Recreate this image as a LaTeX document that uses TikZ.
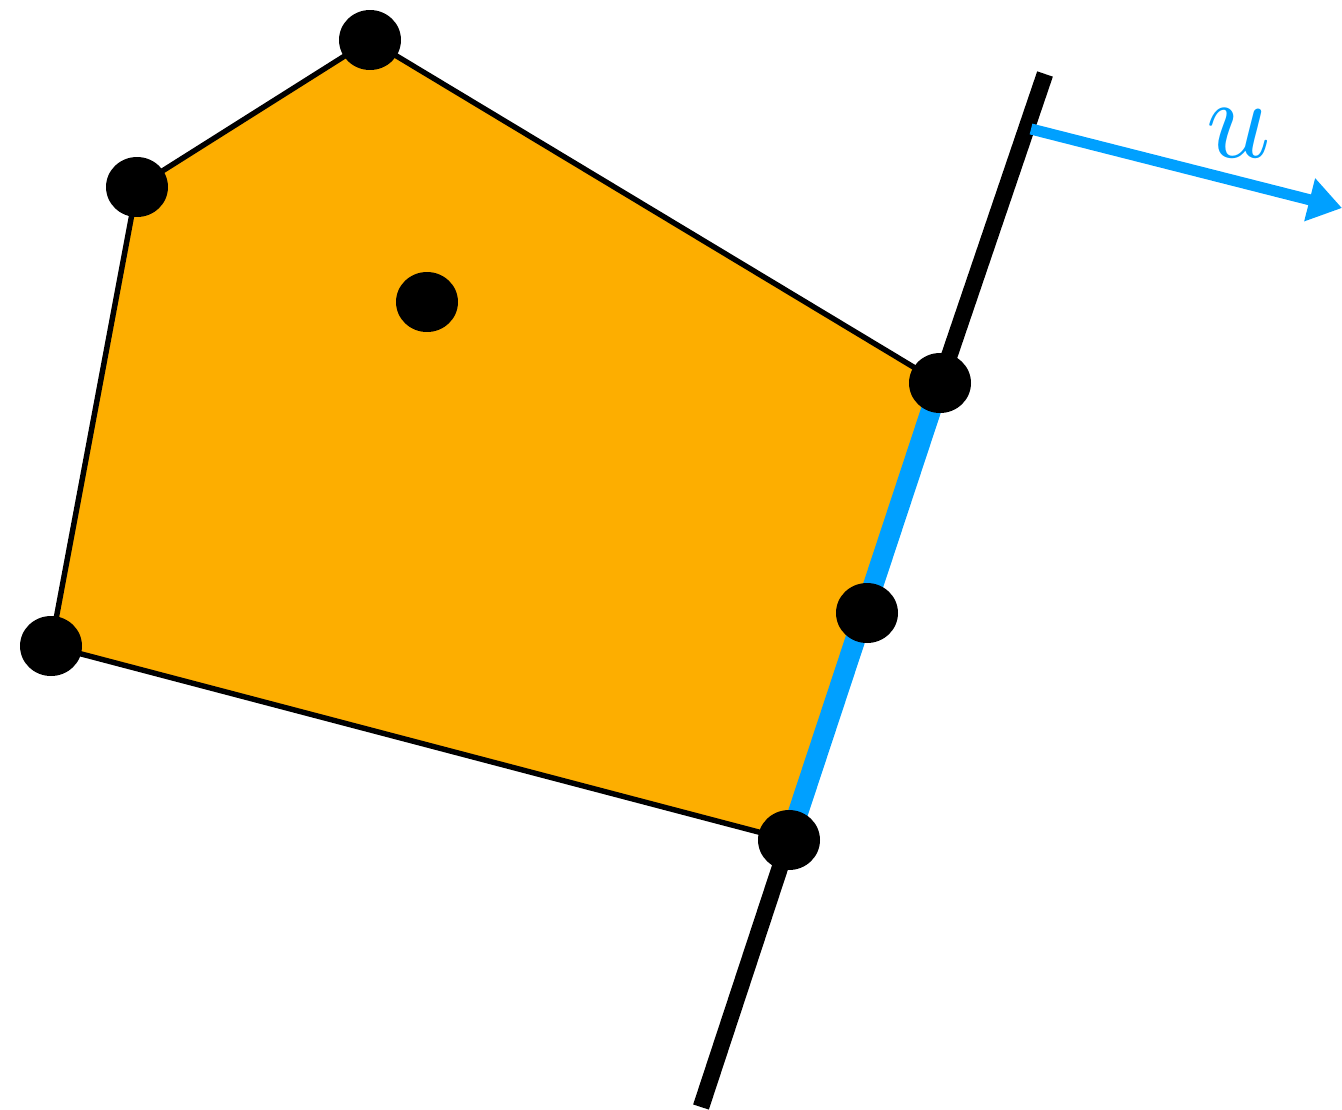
\documentclass[tikz,border=0pt]{standalone}
\usetikzlibrary{shapes.geometric,arrows.meta}
\definecolor{polyorange}{RGB}{253,174,0}
\definecolor{ublue}{RGB}{0,160,255}
\tikzset{
  dot/.style={ellipse,fill=black,inner sep=0pt,minimum width=1.24cm,minimum height=1.2cm},
  edge/.style={line width=3.1pt,black},
  support/.style={line width=9.4pt,black},
  faceedge/.style={line width=11.5pt,ublue},
  dirarrow/.style={line width=6.3pt,ublue,-{Triangle[length=19pt,width=24pt]}}
}
\begin{document}
\begin{tikzpicture}[x=0.02cm,y=-0.02cm]
\useasboundingbox (0,0) rectangle (1342,1109);
% vertex positions
\coordinate (vt) at (370,40);
\coordinate (vl) at (137,187);
\coordinate (vb) at (51,646);
\coordinate (vr) at (789,840);
\coordinate (vq) at (940,383);
\coordinate (lt) at (1045,74);
\coordinate (lb) at (701,1107);
\coordinate (as) at (1031,129);
\coordinate (ae) at (1342,208);
% polygon
\fill[polyorange] (vt) -- (vl) -- (vb) -- (vr) -- (vq) -- cycle;
\draw[edge] (vq) -- (vt);
\draw[edge] (vt) -- (vl);
\draw[edge] (vl) -- (vb);
\draw[edge] (vb) -- (vr);
% supporting line
\draw[support] (lt) -- (vq);
\draw[support] (vr) -- (lb);
\draw[faceedge] (vq) -- (vr);
% direction
\draw[dirarrow] (as) -- (ae);
\node[ublue,inner sep=0pt] (ulab) at (1239,133) {\scalebox{6.4}{$u$}};
% dots
\node[dot] (pt) at (vt) {};
\node[dot] (pl) at (vl) {};
\node[dot] (pb) at (vb) {};
\node[dot] (pr) at (vr) {};
\node[dot] (pq) at (vq) {};
\node[dot] (pi) at (427,302) {};
\node[dot] (pm) at (867,613) {};
\end{tikzpicture}
\end{document}
